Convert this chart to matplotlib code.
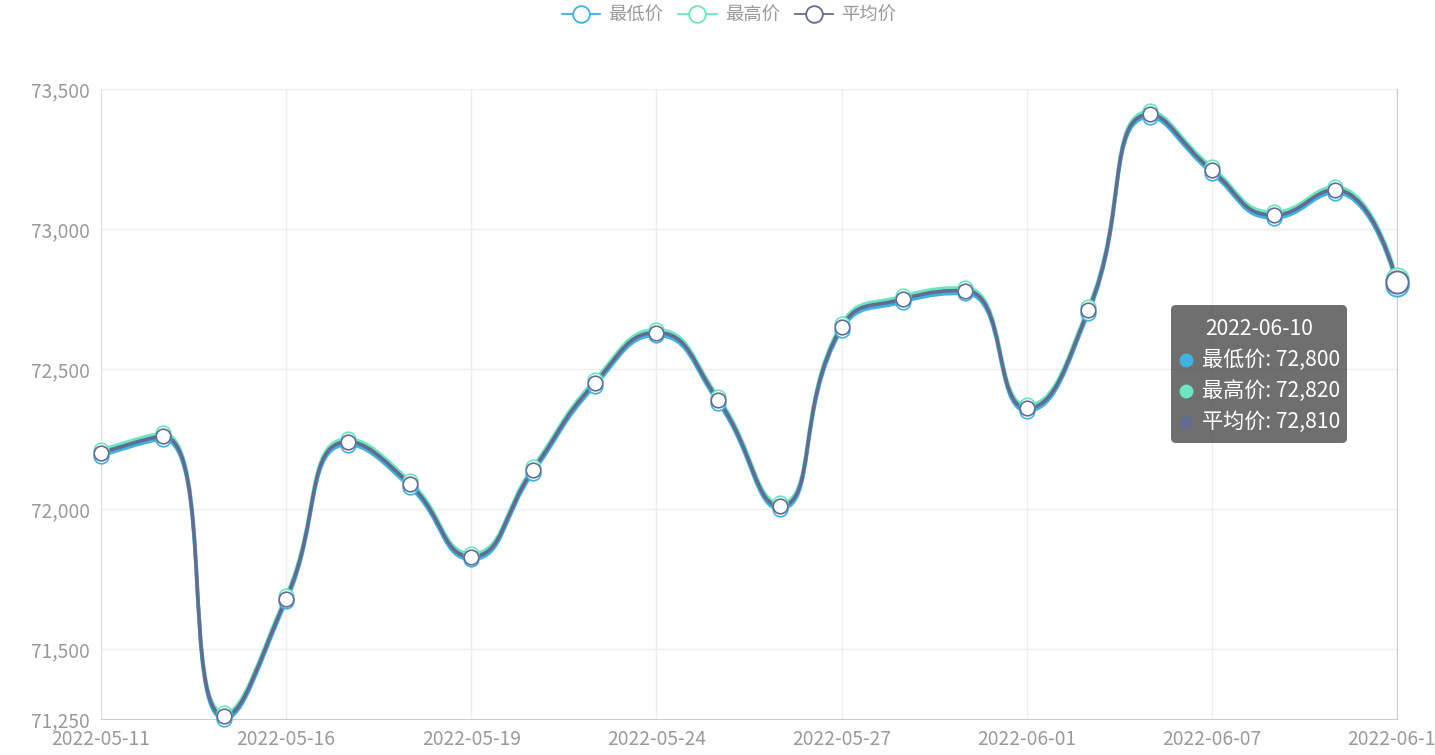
import numpy as np
import matplotlib
matplotlib.use('Agg')
import matplotlib.pyplot as plt
from matplotlib.path import Path
from matplotlib.patches import PathPatch, FancyBboxPatch
from matplotlib.lines import Line2D
from matplotlib.ticker import FuncFormatter

plt.rcParams['font.family'] = ['Noto Sans CJK SC', 'DejaVu Sans']

# 数据
dates = ['2022-05-11', '2022-05-12', '2022-05-13', '2022-05-16', '2022-05-17', '2022-05-18',
         '2022-05-19', '2022-05-20', '2022-05-23', '2022-05-24', '2022-05-25', '2022-05-26',
         '2022-05-27', '2022-05-30', '2022-05-31', '2022-06-01', '2022-06-02', '2022-06-06',
         '2022-06-07', '2022-06-08', '2022-06-09', '2022-06-10']
avg_price = [72200, 72260, 71260, 71680, 72240, 72090, 71830, 72140, 72450, 72630, 72390,
             72010, 72650, 72750, 72780, 72360, 72710, 73410, 73210, 73050, 73140, 72810]
low_price = [72190, 72250, 71250, 71670, 72230, 72080, 71820, 72130, 72440, 72620, 72380,
             72000, 72640, 72740, 72770, 72350, 72700, 73400, 73200, 73040, 73130, 72800]
high_price = [72210, 72270, 71270, 71690, 72250, 72100, 71840, 72150, 72460, 72640, 72400,
              72020, 72660, 72760, 72790, 72370, 72720, 73420, 73220, 73060, 73150, 72820]
series = [('最低价', low_price, '#3fb1e3'),
          ('最高价', high_price, '#6be6c1'),
          ('平均价', avg_price, '#626c91')]
y_ticks = [71250, 71500, 72000, 72500, 73000, 73500]

W, H = 1435, 755
fig = plt.figure(figsize=(W / 100, H / 100), dpi=100)
ax = fig.add_axes([101 / W, (H - 719) / H, (1397 - 101) / W, (719 - 89) / H])
x = np.arange(len(dates))
ax.set_xlim(0, len(dates) - 1)
ax.set_ylim(71250, 73500)


def smooth_path(xs, ys, smooth=0.5):
    # echarts 风格的平滑曲线（在像素坐标中计算控制点）
    pts = ax.transData.transform(np.column_stack([xs, ys]))
    n = len(pts)
    verts = [pts[0]]
    codes = [Path.MOVETO]
    cp0 = pts[0].copy()
    for k in range(1, n):
        px, py = pts[k - 1]
        cx, cy = pts[k]
        if k + 1 >= n:
            cp1 = np.array([cx, cy])
            ncp0 = np.array([cx, cy])
        else:
            nx, ny = pts[k + 1]
            vx, vy = nx - px, ny - py
            l0 = np.hypot(cx - px, cy - py)
            l1 = np.hypot(nx - cx, ny - cy)
            r = l1 / (l0 + l1)
            ncx = cx + vx * smooth * r
            ncy = cy + vy * smooth * r
            ncx = max(min(ncx, max(nx, cx)), min(nx, cx))
            ncy = max(min(ncy, max(ny, cy)), min(ny, cy))
            vx, vy = ncx - cx, ncy - cy
            c1x = cx - vx * l0 / l1
            c1y = cy - vy * l0 / l1
            c1x = max(min(c1x, max(px, cx)), min(px, cx))
            c1y = max(min(c1y, max(py, cy)), min(py, cy))
            vx, vy = cx - c1x, cy - c1y
            ncx = cx + vx * l1 / l0
            ncy = cy + vy * l1 / l0
            cp1 = np.array([c1x, c1y])
            ncp0 = np.array([ncx, ncy])
        verts += [cp0, cp1, pts[k]]
        codes += [Path.CURVE4] * 3
        cp0 = ncp0
    verts = ax.transData.inverted().transform(np.array(verts))
    return Path(verts, codes)


# 网格
for t in y_ticks[1:]:
    ax.axhline(t, color='#eeeeee', lw=1, zorder=0)
for i in range(3, len(dates), 3):
    ax.axvline(i, color='#eeeeee', lw=1, zorder=0)

for name, vals, c in series:
    ax.add_patch(PathPatch(smooth_path(x, vals), fill=False, edgecolor=c, lw=2.6,
                           capstyle='round', joinstyle='round', zorder=2, clip_on=False))
for name, vals, c in series:
    ax.plot(x[:-1], vals[:-1], 'o', ms=10.5, mfc='white', mec=c, mew=1.2, zorder=3, clip_on=False)
    ax.plot(x[-1:], vals[-1:], 'o', ms=16, mfc='white', mec=c, mew=1.4, zorder=3, clip_on=False)

ax.set_xticks(x[::3])
ax.set_xticklabels(dates[::3])
ax.set_yticks(y_ticks)
ax.yaxis.set_major_formatter(FuncFormatter(lambda v, p: f'{int(v):,}'))
ax.tick_params(axis='both', length=0, labelsize=13.8, labelcolor='#999999')
ax.tick_params(axis='x', pad=7.5)
ax.tick_params(axis='y', pad=8)
ax.spines['top'].set_visible(False)
ax.spines['left'].set_color('#dddddd')
ax.spines['bottom'].set_color('#cccccc')
ax.spines['right'].set_color('#cccccc')

# 图例
handles = [Line2D([], [], color=c, lw=1.3, marker='o', ms=12, mfc='white', mec=c, mew=1.3)
           for _, _, c in series]
fig.legend(handles, [s[0] for s in series], loc='upper center', bbox_to_anchor=(729 / W, 0.996),
           ncol=3, frameon=False, fontsize=13.2, labelcolor='#999999', handlelength=2.1,
           handletextpad=0.45, columnspacing=0.8, borderpad=0.1, borderaxespad=0.1)

# 提示框
tr = fig.dpi_scale_trans
fig.add_artist(FancyBboxPatch((11.71, (H - 443) / 100), 1.76, 1.38,
                              boxstyle='round,pad=0,rounding_size=0.05', transform=tr,
                              facecolor='#323232', alpha=0.7, edgecolor='none', zorder=10))
fig.text(12.59, (H - 329) / 100, dates[-1], transform=tr, color='white', fontsize=15.2,
         ha='center', va='center', zorder=11)
for j, (name, vals, c) in enumerate(series):
    yy = (H - 360 - 31 * j) / 100
    fig.add_artist(Line2D([11.86], [yy], transform=tr, marker='o', ms=10, color=c, mec='none',
                          zorder=11))
    fig.text(12.015, yy, f'{name}: {vals[-1]:,}', transform=tr, color='white', fontsize=15.2,
             ha='left', va='center', zorder=11)

fig.savefig('out.png', dpi=100)
